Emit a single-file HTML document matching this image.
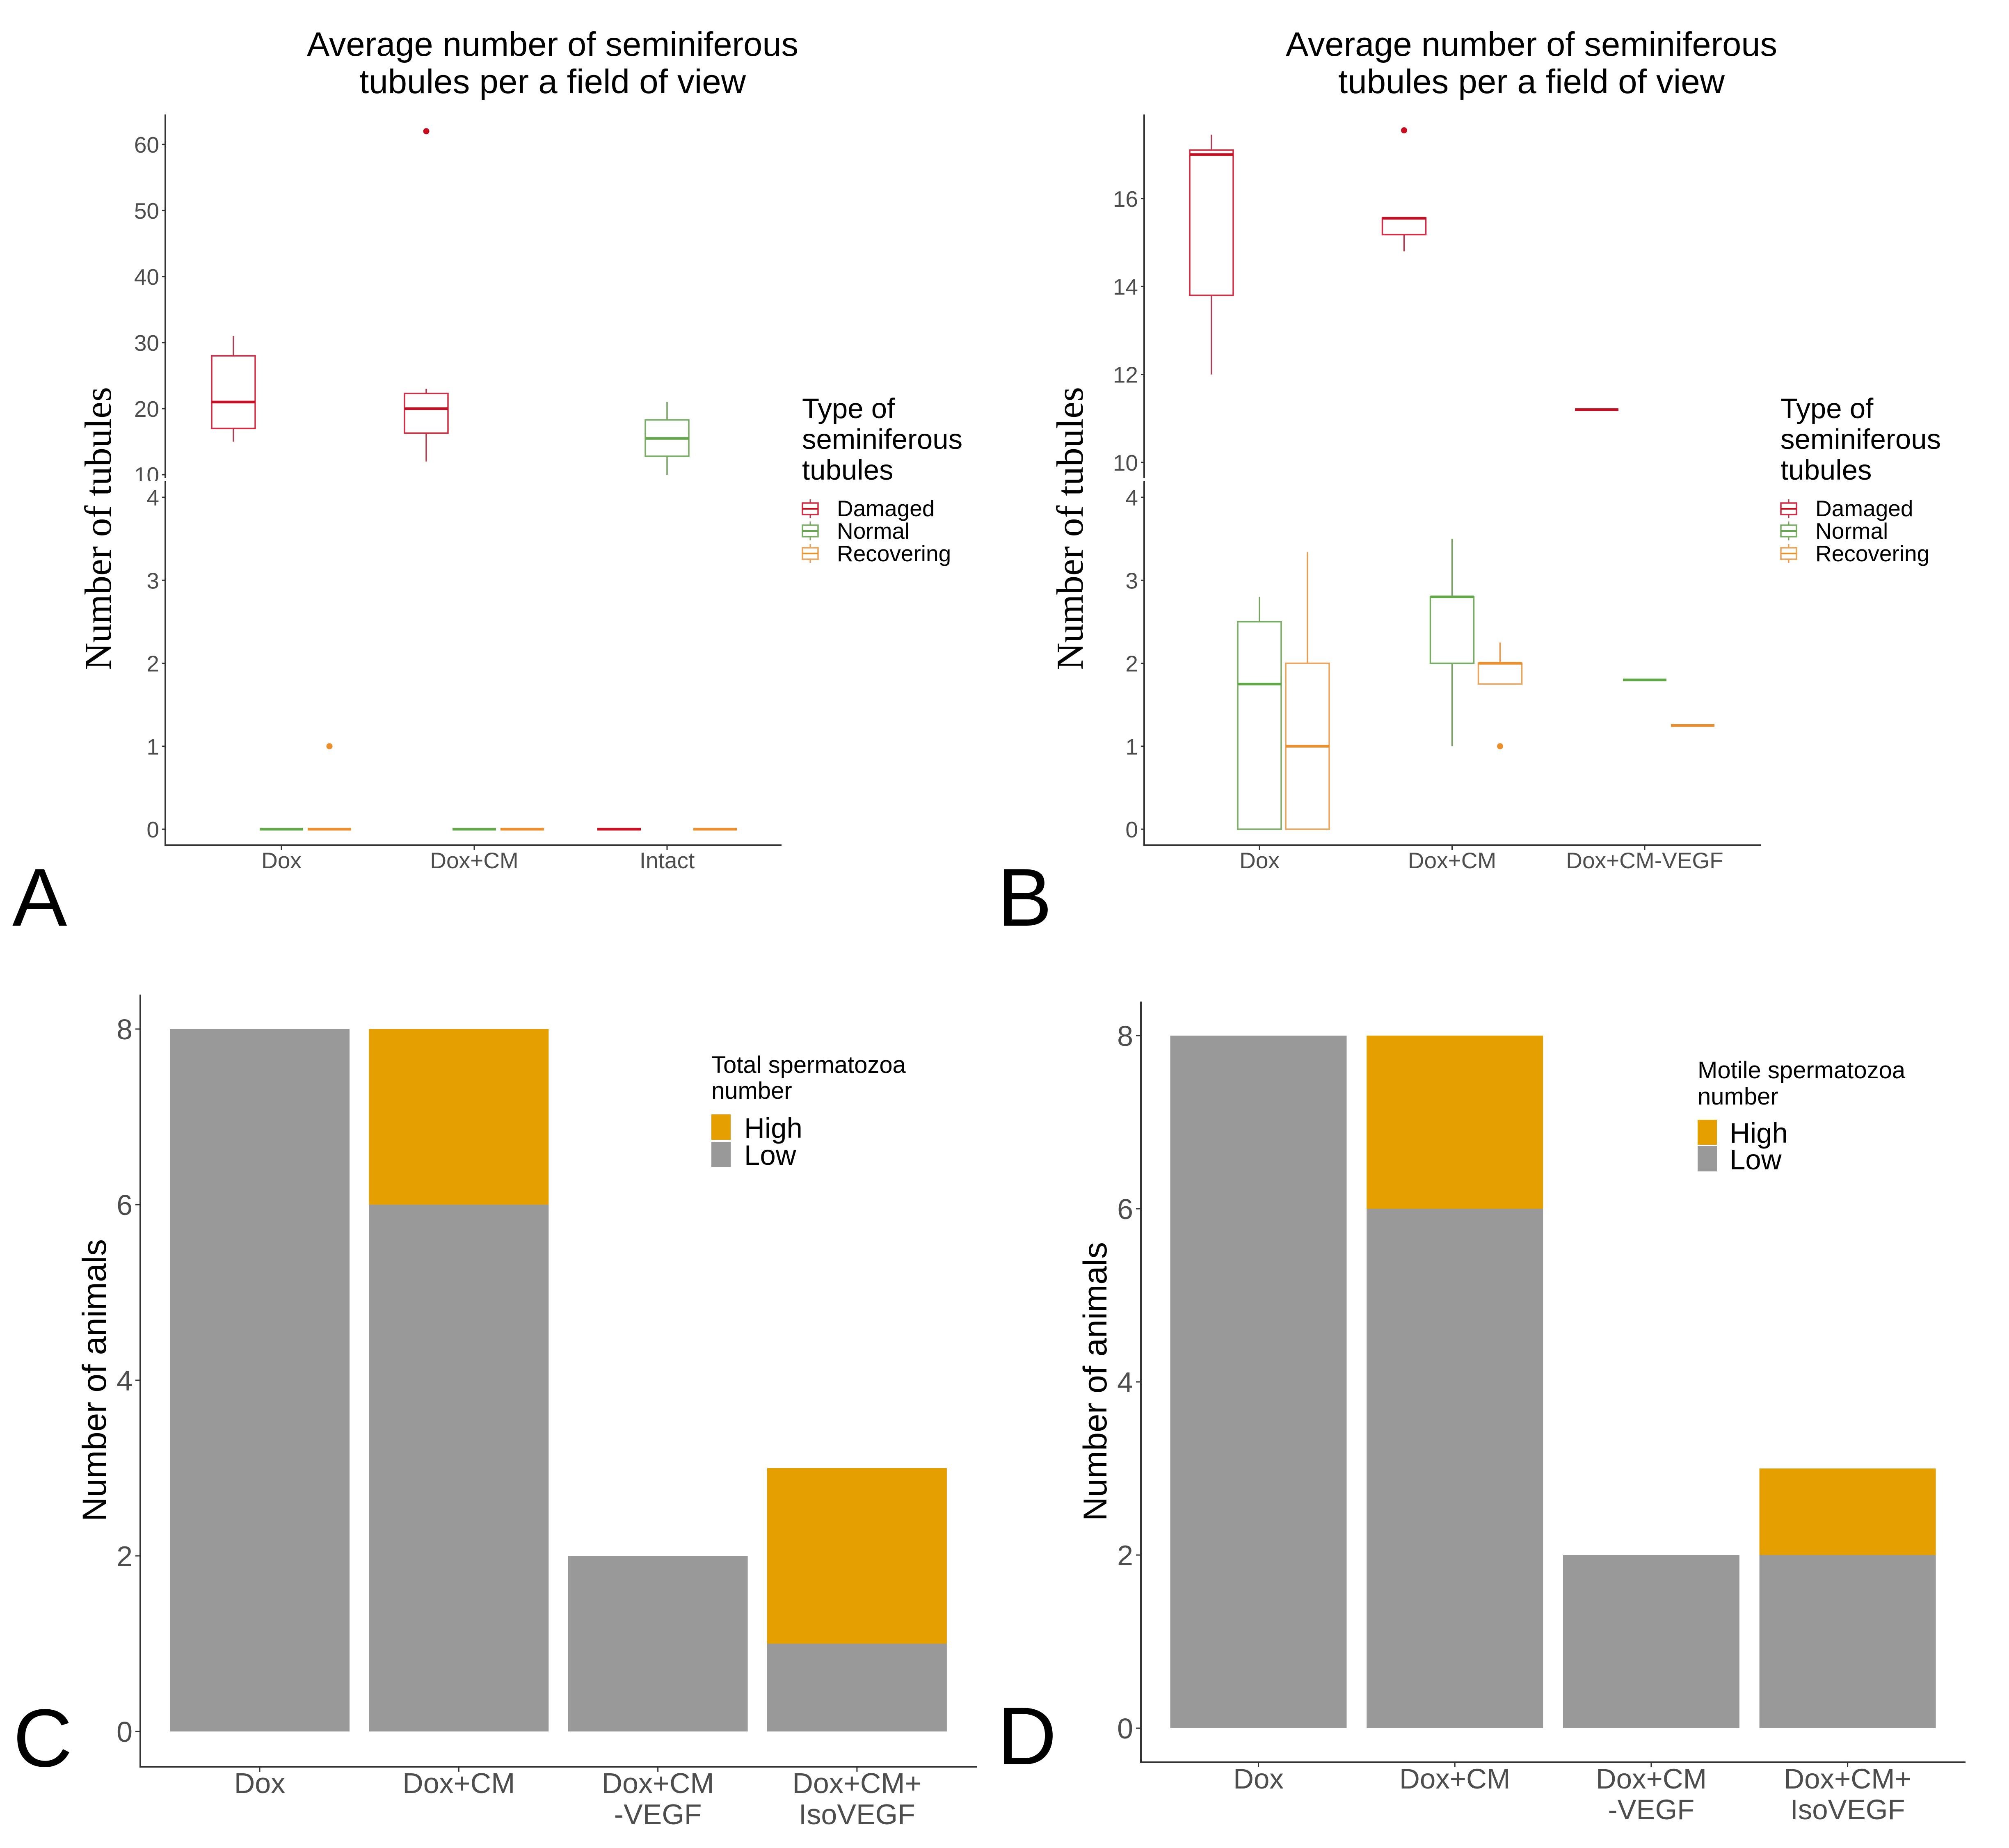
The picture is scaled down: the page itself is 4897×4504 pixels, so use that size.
<!DOCTYPE html>
<html lang="en">
<head>
<meta charset="utf-8">
<title>Seminiferous tubules and spermatozoa charts</title>
<style>
html,body{margin:0;padding:0;background:#fff;}
svg{display:block;}
text{font-family:"Liberation Sans",Arial,sans-serif;}
</style>
</head>
<body>
<svg id="figure" xmlns="http://www.w3.org/2000/svg" width="4897" height="4504" viewBox="0 0 4897 4504">
<rect x="0" y="0" width="4897" height="4504" fill="#ffffff"/>
</svg>
<script>
// ---------- Panel A data ----------
const aCategories = ['Dox', 'Dox+CM', 'Intact'];
const aUpperTicks = [10, 20, 30, 40, 50, 60];
const aLowerTicks = [0, 1, 2, 3, 4];
// [lower whisker, q1, median, q3, upper whisker], one per category, null = no box
const aDamaged = [[15, 17, 21, 28, 31], [12, 16.3, 20, 22.3, 23], [0, 0, 0, 0, 0]];
const aNormal = [[0, 0, 0, 0, 0], [0, 0, 0, 0, 0], [10, 12.8, 15.5, 18.3, 21]];
const aRecovering = [[0, 0, 0, 0, 0], [0, 0, 0, 0, 0], [0, 0, 0, 0, 0]];
const aDamagedOutliers = [[], [62], []];
const aNormalOutliers = [[], [], []];
const aRecoveringOutliers = [[1], [], []];

// ---------- Panel B data ----------
const bCategories = ['Dox', 'Dox+CM', 'Dox+CM-VEGF'];
const bUpperTicks = [10, 12, 14, 16];
const bLowerTicks = [0, 1, 2, 3, 4];
const bDamaged = [[12, 13.8, 17, 17.1, 17.45], [14.8, 15.18, 15.55, 15.56, 15.56], [11.2, 11.2, 11.2, 11.2, 11.2]];
const bNormal = [[0, 0, 1.75, 2.5, 2.8], [1, 2, 2.8, 2.8, 3.5], [1.8, 1.8, 1.8, 1.8, 1.8]];
const bRecovering = [[0, 0, 1, 2, 3.34], [1.75, 1.75, 2, 2, 2.25], [1.25, 1.25, 1.25, 1.25, 1.25]];
const bDamagedOutliers = [[], [17.55], []];
const bNormalOutliers = [[], [], []];
const bRecoveringOutliers = [[], [1], []];

// ---------- Panel C data ----------
const cCategories = [['Dox'], ['Dox+CM'], ['Dox+CM', '-VEGF'], ['Dox+CM+', 'IsoVEGF']];
const cTicks = [0, 2, 4, 6, 8];
const cLow = [8, 6, 2, 1];
const cHigh = [0, 2, 0, 2];

// ---------- Panel D data ----------
const dCategories = [['Dox'], ['Dox+CM'], ['Dox+CM', '-VEGF'], ['Dox+CM+', 'IsoVEGF']];
const dTicks = [0, 2, 4, 6, 8];
const dLow = [8, 6, 2, 2];
const dHigh = [0, 2, 0, 1];

const NS = 'http://www.w3.org/2000/svg';
const root = document.getElementById('figure');
const AXIS = '#333333';
const TICKTXT = '#4d4d4d';

function mk(parent, tag, attrs, name) {
  const el = document.createElementNS(NS, tag);
  for (const k in attrs) el.setAttribute(k, attrs[k]);
  
  
  parent.appendChild(el);
  return el;
}
function txt(parent, x, y, str, size, fill, anchor, name, extra) {
  const attrs = Object.assign({x: x, y: y, 'font-size': size, fill: fill, 'text-anchor': anchor}, extra || {});
  const el = mk(parent, 'text', attrs, name);
  el.textContent = str;
  return el;
}
function line(parent, x1, y1, x2, y2, color, w, name) {
  return mk(parent, 'line', {x1: x1, y1: y1, x2: x2, y2: y2, stroke: color, 'stroke-width': w}, name);
}

const seriesStyle = [
  {key: 'damaged', label: 'Damaged', stroke: '#d22c45', whisker: '#ad3e50', median: '#c80f22', dot: '#c80f22'},
  {key: 'normal', label: 'Normal', stroke: '#76ad62', whisker: '#78a268', median: '#62a84a', dot: '#62a84a'},
  {key: 'recovering', label: 'Recovering', stroke: '#eca45a', whisker: '#ec9a50', median: '#ec8e2c', dot: '#ec8e2c'}
];

function drawBoxPanel(p) {
  const g = mk(root, 'g', {}, p.id + '-boxplot');
  const upperY = v => p.upperBase - (v - 10) * p.upperUnit;
  const lowerY = v => p.zeroY - v * p.lowerUnit;
  const y = v => (v > 6 ? upperY(v) : lowerY(v));
  const xCat = i => p.x0 + i * p.spacing;
  const boxW = 106, dodge = 117;

  // titles
  txt(g, p.titleX, 136, 'Average number of seminiferous', 83, '#000', 'middle', p.id + '-title-line-1');
  txt(g, p.titleX, 227, 'tubules per a field of view', 83, '#000', 'middle', p.id + '-title-line-2', {textLength: 942, lengthAdjust: 'spacingAndGlyphs'});

  // y ticks and labels
  p.upperTicks.forEach(t => {
    line(g, p.axisX - 8, upperY(t), p.axisX, upperY(t), AXIS, 3, p.id + '-upper-tick');
    txt(g, p.axisX - 15, upperY(t) + 20, String(t), 55, TICKTXT, 'end', p.id + '-upper-tick-label');
  });
  // the lower facet hides whatever spills out of the upper facet
  mk(g, 'rect', {x: p.axisX - 110, y: 1172, width: 110, height: 22, fill: '#fff'}, p.id + '-facet-gap');
  p.lowerTicks.forEach(t => {
    line(g, p.axisX - 8, lowerY(t), p.axisX, lowerY(t), AXIS, 3, p.id + '-lower-tick');
    txt(g, p.axisX - 15, lowerY(t) + 20, String(t), 55, TICKTXT, 'end', p.id + '-lower-tick-label');
  });

  // axes
  line(g, p.axisX, 279, p.axisX, 1165, AXIS, 4, p.id + '-upper-y-axis');
  line(g, p.axisX, 1173, p.axisX, 2062, AXIS, 4, p.id + '-lower-y-axis');
  line(g, p.axisX - 2, 2060, p.axisEnd, 2060, AXIS, 4, p.id + '-x-axis');

  p.categories.forEach((c, i) => {
    line(g, xCat(i), 2060, xCat(i), 2072, AXIS, 3, p.id + '-x-tick');
    txt(g, xCat(i), 2116, c, 55, TICKTXT, 'middle', p.id + '-x-tick-label');
  });

  // y title
  txt(g, 0, 0, 'Number of tubules', 92, '#000', 'middle', p.id + '-y-axis-title', {
    transform: 'translate(' + p.yTitleX + ',1288) rotate(-90)',
    style: 'font-family:"Liberation Serif",serif'
  });

  // boxes
  p.series.forEach((vals, s) => {
    const st = seriesStyle[s];
    vals.forEach((v, i) => {
      if (!v) return;
      if (p.hidden && p.hidden[s] && p.hidden[s][i]) return;
      const cx = xCat(i) + (s - 1) * dodge;
      const left = cx - boxW / 2;
      const bg = mk(g, 'g', {}, p.id + '-box-' + st.key);
      if (v[4] > v[3]) line(bg, cx, y(v[4]), cx, y(v[3]), st.whisker, 3.5, 'upper-whisker');
      if (v[0] < v[1]) line(bg, cx, y(v[1]), cx, y(v[0]), st.whisker, 3.5, 'lower-whisker');
      if (v[3] > v[1]) mk(bg, 'rect', {x: left, y: y(v[3]), width: boxW, height: y(v[1]) - y(v[3]), fill: 'none', stroke: st.stroke, 'stroke-width': 3.5}, 'interquartile-box');
      line(bg, left, y(v[2]), left + boxW, y(v[2]), st.median, 6.5, 'median-line');
    });
    p.outliers[s].forEach((list, i) => {
      const cx = xCat(i) + (s - 1) * dodge;
      list.forEach(o => {
        mk(g, 'circle', {cx: cx, cy: y(o), r: 7.5, fill: st.dot}, p.id + '-outlier-' + st.key);
      });
    });
  });

  // legend
  const lg = mk(g, 'g', {}, p.id + '-legend');
  const lx = p.legendX;
  txt(lg, lx, 1019, 'Type of', 69, '#000', 'start', 'legend-title-line-1');
  txt(lg, lx, 1094, 'seminiferous', 69, '#000', 'start', 'legend-title-line-2');
  txt(lg, lx, 1169, 'tubules', 69, '#000', 'start', 'legend-title-line-3');
  const keyCy = [1240, 1294, 1349];
  const keyBase = [1258, 1313, 1368];
  seriesStyle.forEach((st, k) => {
    const e = mk(lg, 'g', {}, 'legend-entry-' + st.key);
    const cx = lx + 20, cy = keyCy[k];
    line(e, cx, cy - 23, cx, cy + 23, st.whisker, 3, 'legend-key-whisker');
    mk(e, 'rect', {x: cx - 19, y: cy - 14, width: 38, height: 28, fill: '#fff', stroke: st.stroke, 'stroke-width': 3.5}, 'legend-key-box');
    line(e, cx - 19, cy, cx + 19, cy, st.median, 4, 'legend-key-median');
    txt(e, lx + 85, keyBase[k], st.label, 55, '#000', 'start', 'legend-label-' + st.key);
  });
}

function drawBarPanel(p) {
  const g = mk(root, 'g', {}, p.id + '-bar-chart');
  const y = v => p.zeroY - v * p.unit;
  const xCat = i => p.x0 + i * p.spacing;

  p.low.forEach((v, i) => {
    mk(g, 'rect', {x: xCat(i) - p.barW / 2, y: y(v), width: p.barW, height: y(0) - y(v), fill: '#999999'}, p.id + '-bar-low');
    if (p.high[i] > 0) {
      mk(g, 'rect', {x: xCat(i) - p.barW / 2, y: y(v + p.high[i]), width: p.barW, height: y(v) - y(v + p.high[i]), fill: '#E69F00'}, p.id + '-bar-high');
    }
  });

  line(g, p.axisX, p.axisTop, p.axisX, p.axisY + 2, AXIS, 4, p.id + '-y-axis');
  line(g, p.axisX - 2, p.axisY, p.axisEnd, p.axisY, AXIS, 4, p.id + '-x-axis');

  p.ticks.forEach(t => {
    line(g, p.axisX - 12, y(t), p.axisX, y(t), AXIS, 3, p.id + '-y-tick');
    txt(g, p.axisX - 19, y(t) + 25, String(t), 70, TICKTXT, 'end', p.id + '-y-tick-label');
  });
  p.categories.forEach((c, i) => {
    line(g, xCat(i), p.axisY, xCat(i), p.axisY + 12, AXIS, 3, p.id + '-x-tick');
    c.forEach((part, j) => {
      txt(g, xCat(i), p.xLabelY[j], part, p.xFont, TICKTXT, 'middle', p.id + '-x-tick-label');
    });
  });

  txt(g, 0, 0, 'Number of animals', p.yTitleFont, '#000', 'middle', p.id + '-y-axis-title', {
    transform: 'translate(' + p.yTitleX + ',' + p.yTitleY + ') rotate(-90)'
  });

  const lg = mk(g, 'g', {}, p.id + '-legend');
  txt(lg, p.legendX, p.legendTitleY[0], p.legendTitle, 58, '#000', 'start', 'legend-title-line-1');
  txt(lg, p.legendX, p.legendTitleY[1], 'number', 58, '#000', 'start', 'legend-title-line-2');
  mk(lg, 'rect', {x: p.legendX, y: p.keyHigh[0], width: 47, height: p.keyHigh[1] - p.keyHigh[0], fill: '#E69F00'}, 'legend-key-high');
  mk(lg, 'rect', {x: p.legendX, y: p.keyLow[0], width: 47, height: p.keyLow[1] - p.keyLow[0], fill: '#999999'}, 'legend-key-low');
  txt(lg, p.legendLabelX, p.keyLabelY[0], 'High', 69, '#000', 'start', 'legend-label-high');
  txt(lg, p.legendLabelX, p.keyLabelY[1], 'Low', 69, '#000', 'start', 'legend-label-low');
}

drawBoxPanel({
  id: 'panel-a', titleX: 1347, axisX: 403, axisEnd: 1905, x0: 686, spacing: 470, yTitleX: 270, legendX: 1955,
  upperBase: 1157, upperUnit: 16.1, zeroY: 2021, lowerUnit: 202.25,
  upperTicks: aUpperTicks, lowerTicks: aLowerTicks, categories: aCategories,
  series: [aDamaged, aNormal, aRecovering],
  outliers: [aDamagedOutliers, aNormalOutliers, aRecoveringOutliers]
});
drawBoxPanel({
  id: 'panel-b', titleX: 3733, axisX: 2789, axisEnd: 4292, x0: 3070, spacing: 469.5, yTitleX: 2639, legendX: 4340,
  upperBase: 1127, upperUnit: 107.2, zeroY: 2021, lowerUnit: 202.25,
  upperTicks: bUpperTicks, lowerTicks: bLowerTicks, categories: bCategories,
  series: [bDamaged, bNormal, bRecovering],
  outliers: [bDamagedOutliers, bNormalOutliers, bRecoveringOutliers]
});
drawBarPanel({
  id: 'panel-c', axisX: 342, axisEnd: 2381, axisTop: 2424, axisY: 4306, zeroY: 4220, unit: 214,
  x0: 633, spacing: 485.3, barW: 438, ticks: cTicks, categories: cCategories, low: cLow, high: cHigh,
  xFont: 70, xLabelY: [4370, 4446], yTitleX: 258, yTitleY: 3364, yTitleFont: 82,
  legendX: 1734, legendTitle: 'Total spermatozoa', legendTitleY: [2615, 2678],
  keyHigh: [2716, 2778], keyLow: [2784, 2844], legendLabelX: 1814, keyLabelY: [2773, 2839]
});
drawBarPanel({
  id: 'panel-d', axisX: 2781, axisEnd: 4791, axisTop: 2441, axisY: 4295, zeroY: 4212, unit: 211,
  x0: 3067.5, spacing: 478.7, barW: 430, ticks: dTicks, categories: dCategories, low: dLow, high: dHigh,
  xFont: 69, xLabelY: [4359, 4434], yTitleX: 2697, yTitleY: 3367, yTitleFont: 81,
  legendX: 4138, legendTitle: 'Motile spermatozoa', legendTitleY: [2628, 2692],
  keyHigh: [2729, 2790], keyLow: [2793, 2855], legendLabelX: 4216, keyLabelY: [2785, 2850]
});

txt(root, 30, 2256, 'A', 200, '#000', 'start', 'panel-letter-a');
txt(root, 2431, 2256, 'B', 200, '#000', 'start', 'panel-letter-b');
txt(root, 32, 4305, 'C', 200, '#000', 'start', 'panel-letter-c');
txt(root, 2431, 4300, 'D', 200, '#000', 'start', 'panel-letter-d');
</script>
</body>
</html>
